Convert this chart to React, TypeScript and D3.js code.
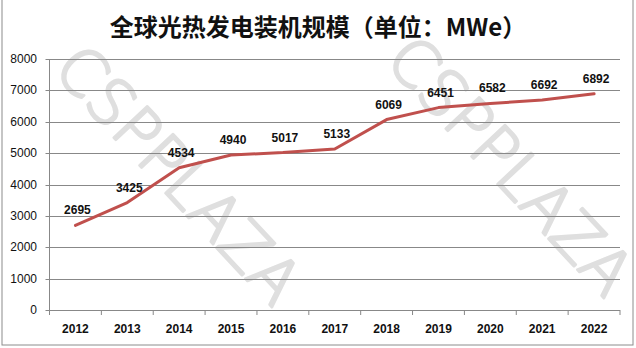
import React from "react";
import * as d3 from "d3";

const years = ["2012","2013","2014","2015","2016","2017","2018","2019","2020","2021","2022"];
const capacity = [2695, 3425, 4534, 4940, 5017, 5133, 6069, 6451, 6582, 6692, 6892];
const yTicks = [0, 1000, 2000, 3000, 4000, 5000, 6000, 7000, 8000];
const title = "全球光热发电装机规模（单位：MWe）";
const watermark = "CSPPLAZA";

export default function App() {
  const W = 636, H = 348;
  const left = 49.5, right = 620, top = 59, bottom = 310;
  const x = d3.scaleBand<string>().domain(years).range([left, right]).padding(0);
  const y = d3.scaleLinear().domain([0, 8000]).range([bottom, top]);
  const cx = (d: string) => (x(d) as number) + x.bandwidth() / 2;
  const line = d3.line<number>().x((_, i) => cx(years[i])).y(v => y(v)).curve(d3.curveLinear);
  const grid = "#888888";
  const tickXs = [...years.map(d => x(d) as number), right];
  const wm = [{ cx: 178, cy: 175 }, { cx: 510, cy: 166 }];

  return (
    <svg width={W} height={H} style={{ position: "absolute", left: 0, top: 0, display: "block", background: "#fff" }}
      fontFamily="'Liberation Sans', Arial, sans-serif">
      <rect x={0} y={0} width={W} height={H} fill="#fff" />
      {wm.map((w, i) => (
        <text key={i} x={w.cx} y={w.cy} transform={`rotate(47 ${w.cx} ${w.cy})`} textAnchor="middle"
          dominantBaseline="central" fontSize={63} fontWeight={200}
          fontFamily="'DejaVu Sans', 'Liberation Sans', sans-serif"
          fill="#dfdfdf" stroke="#dfdfdf" strokeWidth={2.6} strokeLinejoin="round">{watermark}</text>
      ))}
      <rect x={2} y={-2} width={631} height={347} fill="none" stroke="#8c8c8c" strokeWidth={1} />
      <text x={318} y={36} textAnchor="middle" fontSize={24} fontWeight="bold"
        fontFamily="'Noto Sans CJK SC', sans-serif" fill="#111">{title}</text>
      {yTicks.map(t => (
        <g key={t}>
          <line x1={left - 4} x2={right} y1={Math.round(y(t)) + 0.5} y2={Math.round(y(t)) + 0.5} stroke={grid} strokeWidth={1} />
          <text x={37} y={y(t) + 4} textAnchor="end" fontSize={12} fill="#111">{t}</text>
        </g>
      ))}
      <line x1={left} x2={left} y1={top} y2={bottom + 0.5} stroke={grid} strokeWidth={1} />
      {tickXs.map((tx, i) => (
        <line key={i} x1={tx} x2={tx} y1={bottom} y2={bottom + 5} stroke={grid} strokeWidth={1} />
      ))}
      {years.map(d => (
        <text key={d} x={cx(d)} y={333} textAnchor="middle" fontSize={12} fontWeight="bold" fill="#111">{d}</text>
      ))}
      <path d={line(capacity) || ""} fill="none" stroke="#C0504D" strokeWidth={3} strokeLinejoin="round" strokeLinecap="round" />
      {capacity.map((v, i) => (
        <text key={i} x={cx(years[i]) + 2} y={y(v) - 11} textAnchor="middle" fontSize={12} fontWeight="bold" fill="#111">{v}</text>
      ))}
    </svg>
  );
}
